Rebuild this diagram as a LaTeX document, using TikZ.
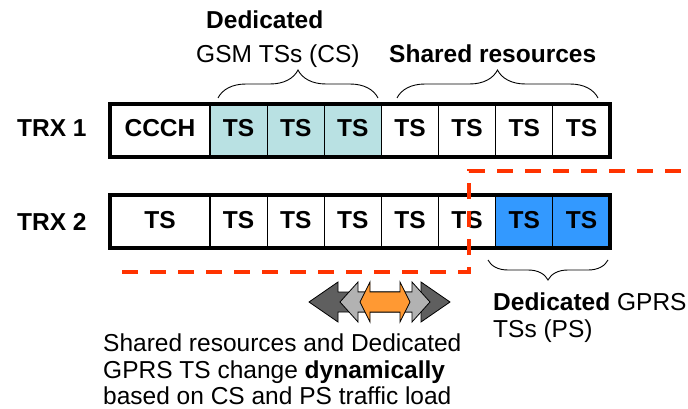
\documentclass[tikz,border=0pt]{standalone}
\usepackage{fontspec}
\setmainfont{Liberation Sans}
\usetikzlibrary{decorations.pathreplacing}
\usetikzlibrary{positioning}

\definecolor{csteal}{HTML}{B9E1E3}
\definecolor{psblue}{HTML}{3399FF}
\definecolor{dashred}{HTML}{FF3300}
\definecolor{darkgrey}{HTML}{5F5F5F}
\definecolor{lightgrey}{HTML}{B2B2B2}
\definecolor{arroworange}{HTML}{FF9933}

\newcommand{\labelsize}{\fontsize{24.5}{27}\selectfont}

% double headed arrow: left tip, head length, right tip, fill colour
\newcommand{\dblarrow}[4]{%
	\draw[dblarrowline, fill=#4] (#1,302) -- ++(#2,-20) -- ++(0,10) -- ({#3-#2},292) -- ++(0,-10)
		-- (#3,302) -- ++(-#2,20) -- ++(0,-10) -- ({#1+#2},312) -- ++(0,10) -- cycle;}

\tikzset{
	slot/.style={draw, line width=1.2pt, minimum height=53pt, minimum width=57.14pt,
		inner sep=0pt, outer sep=0pt, text height=17pt, text depth=4pt,
		font=\labelsize\bfseries},
	plain/.style={anchor=base west, inner sep=0pt, font=\labelsize},
	bold/.style={plain, font=\labelsize\bfseries},
	brace/.style={decorate, decoration={brace, amplitude=#1}, line width=0.9pt},
	dblarrowline/.style={draw=black, line width=0.8pt},
}

\begin{document}
\begin{tikzpicture}[x=1pt,y=-1pt,line join=miter]
	\useasboundingbox (0,0) rectangle (688,409);
	
	% transceiver labels
	\node[bold] (trx1) at (17,137) {TRX 1};
	\node[bold] (trx2) at (17,230) {TRX 2};
	
	% TRX 1 time slots
	\node[slot, minimum width=100pt] (a0) at (160,130.5) {CCCH};
	\foreach \i/\col in {1/csteal,2/csteal,3/csteal,4/white,5/white,6/white,7/white}
	{
		\node[slot, fill=\col] (a\i) at ({210+57.143*(\i-0.5)},130.5) {TS};
	}
	\draw[line width=4pt] (a0.north west) rectangle (a7.south east);
	
	% TRX 2 time slots
	\node[slot, minimum width=100pt] (b0) at (160,221.5) {TS};
	\foreach \i/\col in {1/white,2/white,3/white,4/white,5/white,6/psblue,7/psblue}
	{
		\node[slot, fill=\col] (b\i) at ({210+57.143*(\i-0.5)},221.5) {TS};
	}
	\draw[line width=4pt] (b0.north west) rectangle (b7.south east);
	
	% braces and their texts
	\draw[brace=28pt] (218,98) -- (378,98);
	\draw[brace=28pt] (397,98) -- (598,98);
	\draw[brace=20pt] (608,260) -- (488,260);
	
	\node[bold] (csdedicated) at (206,29) {Dedicated};
	\node[plain] (cstss) at (196,63) {GSM TSs (CS)};
	\node[bold] (shared) at (389,63) {Shared resources};
	\node[plain] (psdedicated) at (493,310) {\textbf{Dedicated} GPRS};
	\node[plain] (pstss) at (493,337) {TSs (PS)};
	
	% boundary between shared and PS resources
	\draw[dashred, line width=3.5pt, dash pattern=on 16pt off 12pt]
		(122,272) -- (469,272) -- (469,171) -- (688,171);
	
	% the moving boundary
	\dblarrow{309}{29}{450}{darkgrey}
	\dblarrow{340}{18}{430}{lightgrey}
	\dblarrow{360}{10}{410}{arroworange}
	
	% note below
	\node[plain] (note1) at (103,351) {Shared resources and Dedicated};
	\node[plain] (note2) at (103,378) {GPRS TS change \textbf{dynamically}};
	\node[plain] (note3) at (103,404) {based on CS and PS traffic load};
\end{tikzpicture}
\end{document}
